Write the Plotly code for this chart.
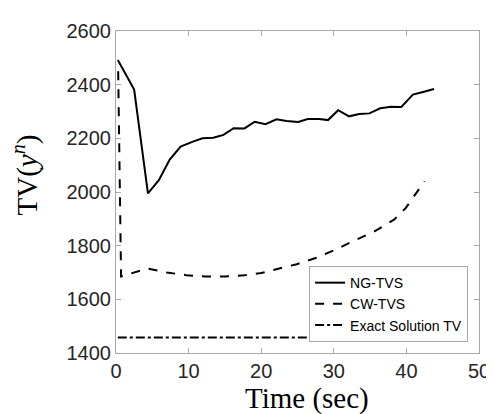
import plotly.graph_objects as go

ng_t = [0.25, 2.5, 4.4, 5.9, 7.4, 8.9, 10.5, 11.9, 13.4, 14.8, 16.2, 17.7, 19.1, 20.6, 22.1, 23.5,
        25.1, 26.4, 28.0, 29.2, 30.6, 32.1, 33.5, 34.9, 36.4, 37.9, 39.3, 40.9, 42.3, 43.8]
ng_v = [2492, 2382, 1995, 2044, 2121, 2169, 2187, 2200, 2202, 2213, 2238, 2237, 2262, 2253, 2271, 2265,
        2261, 2272, 2272, 2268, 2305, 2282, 2291, 2293, 2312, 2318, 2317, 2363, 2373, 2384]

cw_t = [0.3, 0.7, 4.3, 7.0, 9.7, 12.3, 15.0, 17.7, 20.0, 22.2, 24.9, 27.6, 30.3, 32.9, 35.6, 38.3, 39.9, 42.5]
cw_v = [2450, 1685, 1715, 1700, 1690, 1685, 1685, 1690, 1698, 1712, 1731, 1755, 1786, 1820, 1853, 1897, 1940, 2040]

ex_t = [0.25, 43.8]
ex_v = [1458, 1458]

x_ticks = [0, 10, 20, 30, 40, 50]
y_ticks = [1400, 1600, 1800, 2000, 2200, 2400, 2600]

x_title = "Time (sec)"
y_title = "TV(<i>y</i><sup><i>n</i></sup>)"

fig = go.Figure()
fig.add_trace(go.Scatter(x=ng_t, y=ng_v, mode="lines", name="NG-TVS",
                         line=dict(color="black", width=2, dash="solid")))
fig.add_trace(go.Scatter(x=cw_t, y=cw_v, mode="lines", name="CW-TVS",
                         line=dict(color="black", width=2, dash="dash")))
fig.add_trace(go.Scatter(x=ex_t, y=ex_v, mode="lines", name="Exact Solution TV",
                         line=dict(color="black", width=2, dash="dashdot")))

axis_common = dict(showline=True, linecolor="#a8a8a8", linewidth=1, mirror="ticks",
                   ticks="inside", ticklen=5, tickcolor="#a8a8a8", showgrid=False, zeroline=False,
                   tickfont=dict(family="Liberation Sans, Arial", size=20, color="#262626"))

serif = "Liberation Serif, Times New Roman"

fig.update_layout(
    width=494, height=414,
    margin=dict(l=108, r=14, t=19, b=69),
    paper_bgcolor="white", plot_bgcolor="white",
    xaxis=dict(range=[0, 50], tickvals=x_ticks, **axis_common),
    yaxis=dict(range=[1400, 2600], tickvals=y_ticks, **axis_common),
    legend=dict(x=0.97, y=0.034, xanchor="right", yanchor="bottom",
                bgcolor="white", bordercolor="#a8a8a8", borderwidth=1,
                font=dict(family="Liberation Sans, Arial", size=14, color="black"),
                tracegroupgap=0, itemwidth=30),
    showlegend=True,
    annotations=[
        dict(text=x_title, xref="paper", yref="paper", x=0.527, y=-0.142,
             xanchor="center", yanchor="middle", showarrow=False,
             font=dict(family=serif, size=29, color="black")),
        dict(text=y_title, xref="paper", yref="paper", x=-0.25, y=0.552,
             xanchor="center", yanchor="middle", showarrow=False, textangle=-90,
             font=dict(family=serif, size=29, color="black")),
    ],
)

fig.write_html("out.html")
